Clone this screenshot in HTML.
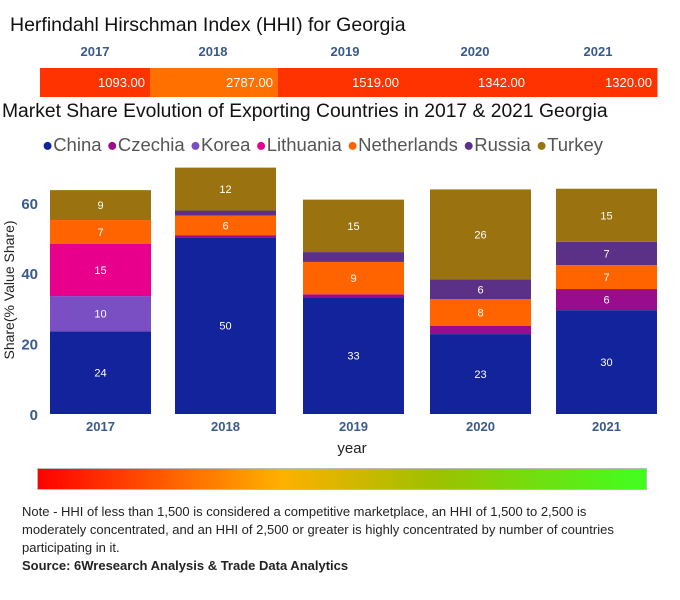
<!DOCTYPE html>
<html><head><meta charset="utf-8"><style>
body{margin:0;width:680px;height:600px;background:#fff;font-family:"Liberation Sans",sans-serif;position:relative;overflow:hidden}
.a{position:absolute;white-space:nowrap}
</style></head><body>
<div class="a" style="left:10px;top:14px;font-size:19.5px;color:#111">Herfindahl Hirschman Index (HHI) for Georgia</div>
<svg id="hhi" class="a" style="left:0;top:40px" width="680" height="60"></svg>
<div class="a" style="left:2px;top:101px;font-size:19.3px;color:#111">Market Share Evolution of Exporting Countries in 2017 &amp; 2021 Georgia</div>
<div class="a" style="left:42px;top:134px;font-size:18.5px;color:#555">
<span><span style="color:#13239b">●</span>China</span>
<span><span style="color:#9b0b8d">●</span>Czechia</span>
<span><span style="color:#7b4fc4">●</span>Korea</span>
<span><span style="color:#e8008c">●</span>Lithuania</span>
<span><span style="color:#ff6400">●</span>Netherlands</span>
<span><span style="color:#5a3187">●</span>Russia</span>
<span><span style="color:#9a7310">●</span>Turkey</span>
</div>
<svg id="chart" class="a" style="left:0;top:0" width="680" height="460"></svg>
<div class="a" style="left:37px;top:468px;width:608px;height:20px;background:linear-gradient(to right,#ff0000,#ffb000 40%,#a0c000 65%,#40ff20);border:1px solid #bbb"></div>
<div class="a" style="left:22px;top:503px;width:632px;white-space:normal;font-family:'Liberation Sans',sans-serif;font-size:13px;line-height:18px;color:#222">Note - HHI of less than 1,500 is considered a competitive marketplace, an HHI of 1,500 to 2,500 is moderately concentrated, and an HHI of 2,500 or greater is highly concentrated by number of countries participating in it.<br><b>Source: 6Wresearch Analysis &amp; Trade Data Analytics</b></div>
<script>
const years=["2017","2018","2019","2020","2021"];
const hhiValues=[1093,2787,1519,1342,1320];
const series=["China","Czechia","Korea","Lithuania","Netherlands","Russia","Turkey"];
const colors=["#13239b","#9b0b8d","#7b4fc4","#e8008c","#ff6400","#5a3187","#9a7310"];
const china=[23.5,50.2,33.2,22.7,29.5];
const czechia=[0,0.6,0.8,2.3,6];
const korea=[10,0,0,0,0];
const lithuania=[14.8,0,0,0,0];
const netherlands=[6.8,5.6,9.2,7.6,6.8];
const russia=[0,1.4,2.8,5.6,6.6];
const turkey=[8.5,12.2,14.9,25.6,15.1];
const yTicks=[0,20,40,60];
const NS="http://www.w3.org/2000/svg";
function mk(p,t,a){const e=document.createElementNS(NS,t);for(const k in a)e.setAttribute(k,a[k]);p.appendChild(e);return e;}
const hs=document.getElementById('hhi');
const segX=[40,150,278,404,530,657];
const hcol=v=>v>=2500?"#ff7000":"#ff3300";
hhiValues.forEach((v,i)=>{
 const r=mk(hs,'rect',{x:segX[i],y:28,width:segX[i+1]-segX[i]+0.5,height:29,fill:hcol(v)});
 
 
 const t=mk(hs,'text',{x:segX[i+1]-5,y:47,'text-anchor':'end','font-size':13,fill:'#fff'});t.textContent=v.toFixed(2);
 const yl=mk(hs,'text',{x:[95,213,345,475,598][i],y:16,'text-anchor':'middle','font-size':13,'font-weight':'bold',fill:'#3a5a8c'});yl.textContent=years[i];
});
const svg=document.getElementById('chart');
const y0=414,pxPer=3.52;
const Y=v=>y0-v*pxPer;
const bx=[50,175,303,430,556],bw=101;
yTicks.forEach(t=>{const e=mk(svg,'text',{x:38,y:Y(t)+6,'text-anchor':'end','font-size':15,'font-weight':'bold',fill:'#3a5a8c'});e.textContent=t;});
const data=[china,czechia,korea,lithuania,netherlands,russia,turkey];
years.forEach((yr,i)=>{
 let acc=0;
 data.forEach((arr,s)=>{
  const v=arr[i];if(v<=0)return;
  const r=mk(svg,'rect',{x:bx[i],y:Y(acc+v),width:bw,height:v*pxPer,fill:colors[s]});
  
  
  if(v>=4){const t=mk(svg,'text',{x:bx[i]+bw/2,y:Y(acc+v/2)+4,'text-anchor':'middle','font-size':11,fill:'#fff'});t.textContent=Math.round(v);}
  acc+=v;
 });
 const l=mk(svg,'text',{x:bx[i]+bw/2,y:431,'text-anchor':'middle','font-size':13,'font-weight':'bold',fill:'#3a5a8c'});l.textContent=yr;
});
const xt=mk(svg,'text',{x:352,y:453,'text-anchor':'middle','font-size':15,fill:'#222'});xt.textContent='year';

const yt=mk(svg,'text',{x:14,y:290,'text-anchor':'middle','font-size':14,fill:'#222',transform:'rotate(-90 14 290)'});yt.textContent='Share(% Value Share)';

</script>
</body></html>
